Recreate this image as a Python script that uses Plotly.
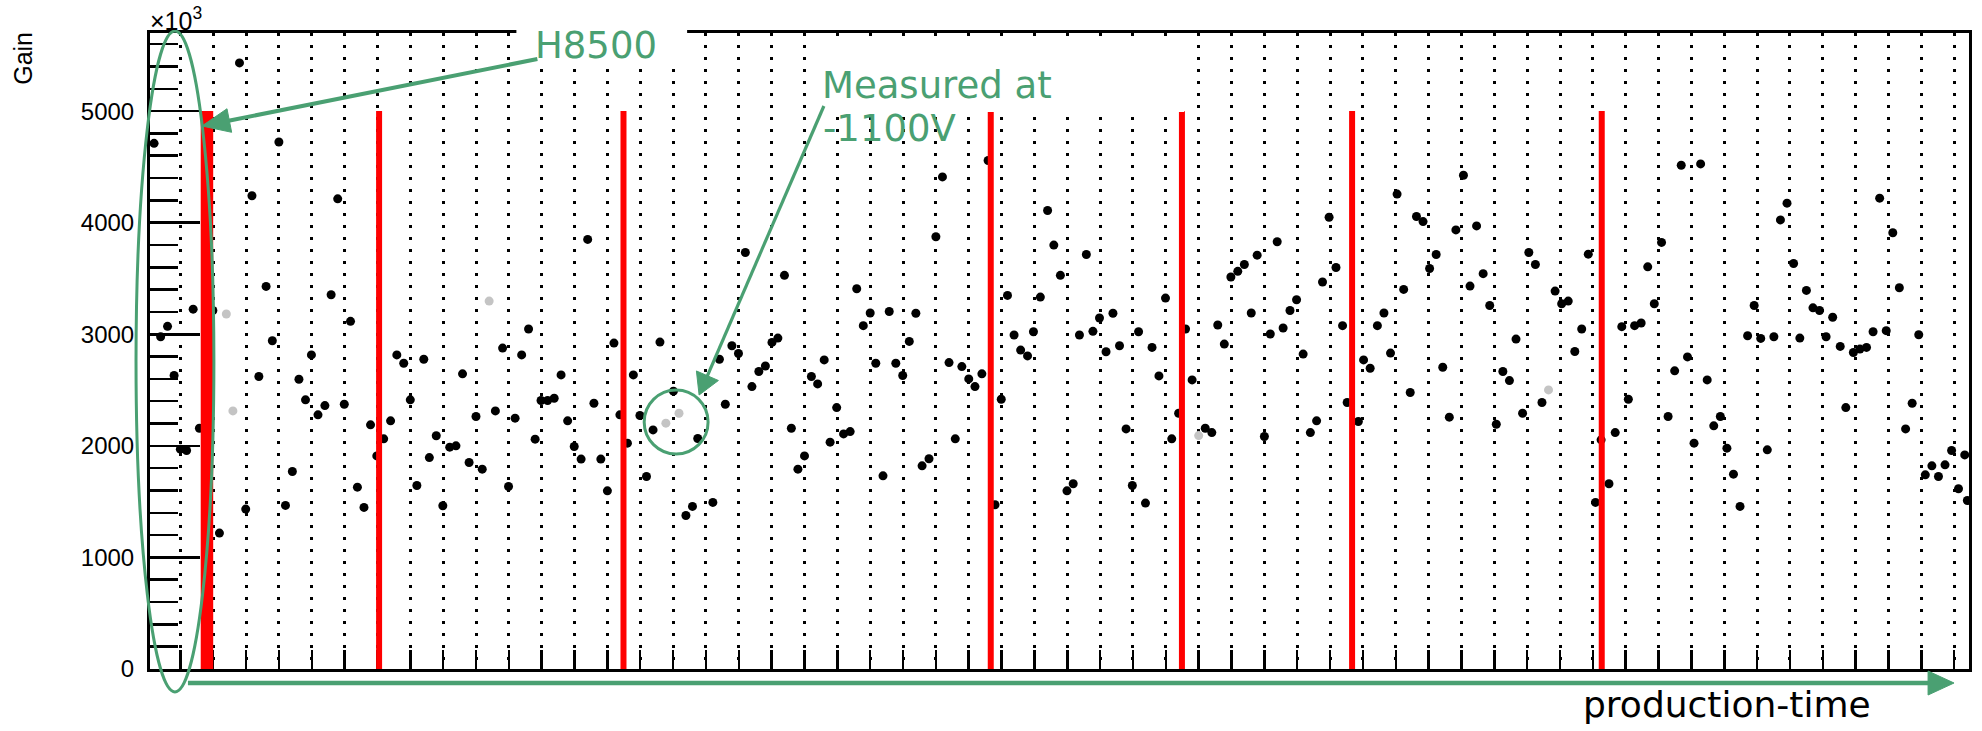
import plotly.graph_objects as go

# ---------------- data ----------------
# x position in "production batch" units (dotted lines sit at integer positions)
black_pos = [
    -0.80, 1.80, 3.00, 2.18, 4.79, 2.61, 4.59, 5.18, 0.39, 0.99, -0.39, -0.60, 2.80, 3.99,
    10.60, 9.81, 10.39, 6.59, 7.41, 12.40, 13.20, 14.60,
    -0.19, 2.39, 3.61, 3.81, 4.40, 4.19, 4.99, 0.58, 0.00, 0.19, 1.19, 1.99, 3.20, 3.41,
    5.39, 5.59, 5.79, 5.98, 6.19, 6.40, 6.80, 7.00, 7.20, 7.58, 7.79, 8.20, 8.39, 7.99,
    8.59, 8.79, 9.00, 9.19, 9.59, 9.99, 10.19, 10.80, 10.98, 11.18, 11.38, 11.59, 11.79,
    11.99, 12.20, 12.59, 12.80, 13.00, 13.38, 13.61, 13.79, 13.99, 14.19, 14.39, 15.01,
    15.75, 15.39, 15.59,
    17.20, 16.79, 16.99, 18.39, 18.01, 18.19, 16.41, 19.60, 20.59, 20.79, 21.00, 21.58,
    22.39, 22.19, 23.00, 23.20, 24.59, 26.40, 26.59, 26.79, 25.18, 26.18, 27.58, 25.38,
    25.58, 25.79, 25.97, 27.37, 27.78, 27.98, 28.39, 28.18, 28.59, 29.17, 29.58, 29.99,
    30.60, 31.58, 31.78, 31.98, 32.19, 32.39, 32.60, 32.78, 33.39, 33.18, 33.57, 33.78,
    33.98, 34.18, 34.97, 35.18, 34.77, 35.38,
    16.21, 16.59, 17.40, 17.61, 17.81, 18.60, 19.00, 18.80, 19.21, 19.40, 19.78, 19.98,
    20.19, 20.39, 21.17, 21.39, 21.78, 21.99, 22.58, 22.79, 23.40, 23.59, 23.79, 24.00,
    24.19, 24.40, 24.80, 24.99, 26.99, 27.18, 28.79, 28.98, 29.38, 29.79, 30.18, 30.39,
    30.80, 31.20, 31.40, 33.00, 34.40, 34.59, 35.52,
    36.02, 36.44, 36.64, 36.84, 37.04, 37.24, 37.63, 37.83, 38.03, 38.23, 38.83, 39.06,
    39.26, 39.46, 39.66, 39.86, 40.66, 41.05, 41.25, 41.85, 42.05, 42.25, 42.45, 42.66,
    42.86, 43.88, 44.27, 44.47, 44.67, 44.87, 45.09, 45.69, 46.28, 45.88, 47.71, 47.91,
    48.11, 48.51, 48.71, 48.91, 49.11, 49.30, 49.50, 49.70, 49.90, 50.10, 50.30, 50.53,
    50.93, 51.13, 51.33, 51.53, 51.73, 51.93, 52.13, 52.33, 52.92,
    35.86, 36.22, 37.44, 38.43, 38.63, 40.06, 40.26, 40.46, 40.86, 41.45, 43.08, 43.25,
    43.49, 43.68, 44.08, 45.29, 45.49, 46.08, 46.48, 46.68, 46.88, 47.08, 47.28, 47.48,
    48.31, 50.70, 52.52, 52.72, 53.12, 53.32, 53.52, 53.72, 53.92, 54.13, 54.32, 54.40,
]
black_gain = [
    4711, 5432, 4723, 4241, 4214, 3429, 3354, 3116, 3225, 3213, 3071, 2978, 2942, 2815,
    3047, 2876, 2815, 2815, 2776, 3850, 2921, 2930,
    2630, 2621, 2597, 2412, 2361, 2278, 2373, 2158, 1970, 1958, 1218, 1433, 1466, 1770,
    1630, 1448, 2188, 1910, 2063, 2224, 2740, 2412, 1645, 1895, 2090, 1988, 2000, 1463,
    2645, 1851, 2263, 1791, 2313, 1636, 2248, 2060, 2406, 2406, 2427, 2636, 2224,
    1994, 1881, 2382, 1881, 1597, 2278, 2024, 2636, 2272, 1725, 2143, 2490,
    2066, 1376, 1457,
    3733, 2897, 2828, 3528, 2927, 2966, 2776, 2770, 3408, 3077, 3191, 3204,
    3188, 2936, 3874, 4410, 4557, 4109, 3799, 3528, 3348, 3333, 3715, 2993,
    2858, 2806, 3023, 2993, 3026, 3146, 3188, 2843, 2897, 3023, 2882, 3324,
    3047, 3083, 2912, 3513, 3564, 3625, 3191, 3709, 3829, 3002, 3056, 3213,
    3309, 2822, 4049, 3598, 3468, 3077,
    1493, 2373, 2531, 2666, 2716, 2158, 1910, 1791, 2621, 2555, 2033, 2343,
    2107, 2128, 2740, 1731, 2740, 2630, 1821, 1884, 2746, 2063, 2710, 2600,
    2531, 2645, 1472, 2418, 1597, 1660, 2152, 1645, 1487, 2627, 2063, 2292,
    2591, 2158, 2119, 2084, 2119, 2224, 2388,
    2770, 3077, 3191, 2831, 4256, 3402, 4055, 4010, 3589, 3715, 3935, 4425,
    3432, 3971, 3543, 3258, 2957, 3733, 3625, 3387, 3273, 3297, 2846, 3047,
    3718, 3068, 3077, 3101, 3604, 3273, 3823, 4515, 4527, 2797, 2987, 3258,
    2963, 2978, 4025, 4175, 3634, 2966, 3393, 3237, 3213, 2978, 3152, 2891,
    2837, 2867, 2882, 3023, 4220, 3032, 3910, 3417, 2996,
    2218, 2695, 2478, 2704, 2257, 2194, 2666, 2585, 2292, 2388, 1493, 2054,
    1660, 2119, 2418, 2263, 2672, 2024, 2591, 2179, 2263, 1979, 1746, 1457,
    1964, 2343, 2152, 2382, 1740, 1821, 1725, 1830, 1958, 1615, 1919, 1510,
]
grey_pos = [1.40, 9.40, 1.60, 14.78, 15.18, 31.00, 41.65]
grey_gain = [3182, 3297, 2313, 2203, 2292, 2092, 2501]

red_pos = [6.05, 13.49, 24.67, 30.49, 35.67, 43.27]   # thin red markers
h8500_band = [0.62, 1.00]                              # thick red marker
red_top = 5000
batch_lines = list(range(0, 55))                       # dotted separators
y_tick_vals = [0, 1000, 2000, 3000, 4000, 5000]
y_tick_text = ["0", "1000", "2000", "3000", "4000", "5000"]
x_range = [-0.924, 54.45]
y_range = [0, 5700]

# ---------------- layout geometry ----------------
W, H = 1982, 731
ML, MR, MT, MB = 150, 10, 33, 62
PW, PH = W - ML - MR, H - MT - MB
GREEN = "#4aa072"
SANS = "Liberation Sans"


def px(X):
    return (X - ML) / PW


def py(Y):
    return (H - MB - Y) / PH


def arrow(tail, tip, head_len, head_half, width, color):
    (x0, y0), (x1, y1) = tail, tip
    dx, dy = x1 - x0, y1 - y0
    n = (dx * dx + dy * dy) ** 0.5
    ux, uy = dx / n, dy / n
    bx, by = x1 - head_len * ux, y1 - head_len * uy
    pxv, pyv = -uy, ux
    c1 = (bx + head_half * pxv, by + head_half * pyv)
    c2 = (bx - head_half * pxv, by - head_half * pyv)
    line = dict(type="line", xref="paper", yref="paper", layer="above",
                x0=px(x0), y0=py(y0), x1=px(bx + 2 * ux), y1=py(by + 2 * uy),
                line=dict(color=color, width=width))
    path = "M {},{} L {},{} L {},{} Z".format(px(x1), py(y1), px(c1[0]), py(c1[1]),
                                              px(c2[0]), py(c2[1]))
    head = dict(type="path", xref="paper", yref="paper", layer="above", path=path,
                fillcolor=color, line=dict(color=color, width=1))
    return [line, head]


fig = go.Figure()
fig.add_trace(go.Scatter(x=grey_pos, y=grey_gain, mode="markers",
                         marker=dict(size=9, color="#c4c4c4"), hoverinfo="skip"))
fig.add_trace(go.Scatter(x=black_pos, y=black_gain, mode="markers",
                         marker=dict(size=9, color="black"), hoverinfo="skip"))

shapes = []
for p in red_pos:
    shapes.append(dict(type="line", xref="x", yref="y", layer="above",
                       x0=p, x1=p, y0=0, y1=red_top,
                       line=dict(color="#ff0000", width=6)))
shapes.append(dict(type="rect", xref="x", yref="y", layer="above",
                   x0=h8500_band[0], x1=h8500_band[1], y0=0, y1=red_top,
                   fillcolor="#ff0000", line=dict(width=0)))
# white label boxes pasted over the frame
shapes.append(dict(type="rect", xref="paper", yref="paper", layer="above",
                   x0=px(517), x1=px(688), y0=py(66), y1=py(-5),
                   fillcolor="white", line=dict(width=0)))
shapes.append(dict(type="rect", xref="paper", yref="paper", layer="above",
                   x0=px(818), x1=px(1186), y0=py(112), y1=py(36),
                   fillcolor="white", line=dict(width=0)))
# green ellipse around H8500 group and circle around grey points
shapes.append(dict(type="circle", xref="paper", yref="paper", layer="above",
                   x0=px(136), x1=px(214), y0=py(692), y1=py(31),
                   line=dict(color=GREEN, width=3)))
shapes.append(dict(type="circle", xref="paper", yref="paper", layer="above",
                   x0=px(645), x1=px(709), y0=py(454), y1=py(390),
                   line=dict(color=GREEN, width=3)))
shapes += arrow((538, 59), (202, 126), 28, 12, 4, GREEN)
shapes += arrow((825, 106), (700, 395), 21, 12, 3.2, GREEN)
shapes += arrow((188, 683), (1957, 683), 26, 12, 4.5, GREEN)

annotations = [
    dict(text="H8500", x=px(534), y=py(21.7), xref="paper", yref="paper",
         xanchor="left", yanchor="top", showarrow=False,
         font=dict(family="DejaVu Sans", size=37, color=GREEN)),
    dict(text="Measured at", x=px(821), y=py(61.7), xref="paper", yref="paper",
         xanchor="left", yanchor="top", showarrow=False,
         font=dict(family="DejaVu Sans", size=37, color=GREEN)),
    dict(text="-1100V", x=px(822), y=py(104.7), xref="paper", yref="paper",
         xanchor="left", yanchor="top", showarrow=False,
         font=dict(family="DejaVu Sans", size=37, color=GREEN)),
    dict(text="production-time", x=px(1876), y=py(682), xref="paper", yref="paper",
         xanchor="right", yanchor="top", showarrow=False,
         font=dict(family="DejaVu Sans", size=36, color="black")),
    dict(text="Gain", x=px(23.3), y=py(58.3), xref="paper", yref="paper",
         xanchor="center", yanchor="middle", textangle=-90, showarrow=False,
         font=dict(family=SANS, size=25, color="black")),
    dict(text="×10<sup>3</sup>", x=px(148), y=py(37), xref="paper", yref="paper",
         xanchor="left", yanchor="bottom", showarrow=False,
         font=dict(family=SANS, size=25, color="black")),
]

fig.update_layout(
    width=W, height=H, autosize=False,
    margin=dict(l=ML, r=MR, t=MT, b=MB, pad=0),
    paper_bgcolor="white", plot_bgcolor="white",
    showlegend=False,
    shapes=shapes, annotations=annotations,
    xaxis=dict(range=x_range, tickmode="array", tickvals=batch_lines,
               showticklabels=False, ticks="inside", ticklen=19, tickwidth=2.5,
               tickcolor="black", showgrid=True, gridcolor="black", gridwidth=3,
               griddash="3px,9px", zeroline=False, showline=True, linecolor="black",
               linewidth=3, mirror=True, fixedrange=True),
    yaxis=dict(range=y_range, tickmode="array", tickvals=y_tick_vals, ticktext=y_tick_text,
               ticks="inside", ticklen=50, tickwidth=2.5, tickcolor="black",
               minor=dict(dtick=200, tick0=0, ticks="inside", ticklen=28, tickwidth=2.5,
                          tickcolor="black", showgrid=False),
               showgrid=False, zeroline=False, showline=True, linecolor="black",
               linewidth=3, mirror=True, ticklabelstandoff=8,
               tickfont=dict(family=SANS, size=24, color="black"),
               fixedrange=True),
)

fig.write_html("out.html", config={"displayModeBar": False, "staticPlot": True},
               post_script="document.body.style.margin='0px';")
